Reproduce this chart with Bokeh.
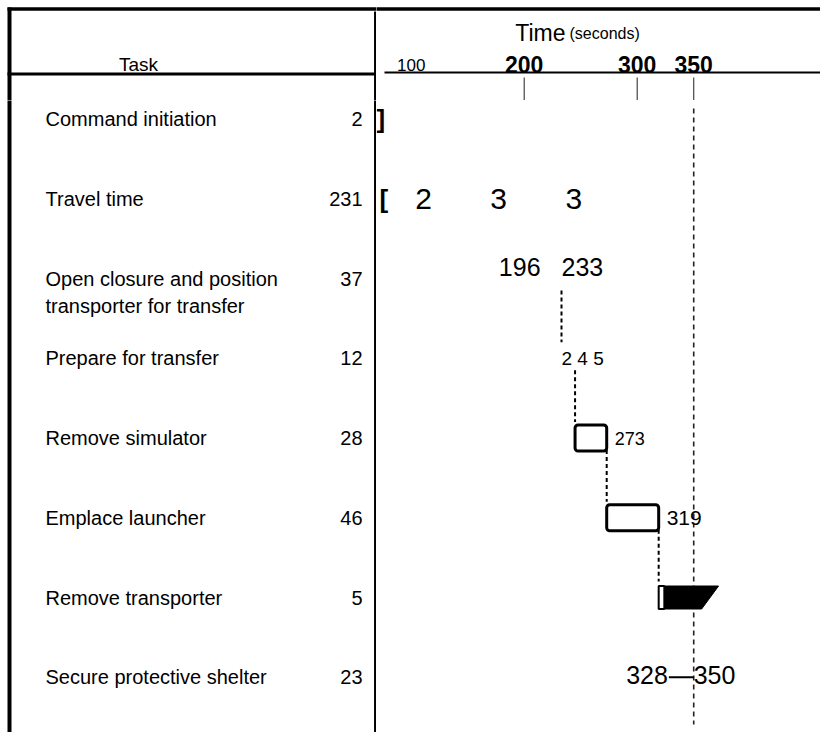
import numpy as np
from bokeh.plotting import figure
from bokeh.layouts import row, column
from bokeh.models import Range1d, Label
from bokeh.core.properties import value
from bokeh.embed import file_html
from bokeh.resources import INLINE

# ---------------- data ----------------
TASKS = [
    "Command initiation",
    "Travel time",
    "Open closure and position\ntransporter for transfer",
    "Prepare for transfer",
    "Remove simulator",
    "Emplace launcher",
    "Remove transporter",
    "Secure protective shelter",
]
DURATIONS = [2, 231, 37, 12, 28, 46, 5, 23]          # seconds
STARTS = [0, 2, 196, 233, 245, 273, 319, 328]        # seconds
ENDS = [2, 233, 233, 245, 273, 319, 324, 350]        # seconds
TICKS = [100, 200, 300, 350]
TICK_LABELS = ["100", "200", "300", "350"]
DEADLINE = 350

# ---------------- layout / style ----------------
FONT = "Liberation Sans"
W_LEFT, W_RIGHT = 376, 444
H_HEAD, H_BODY = 100, 632
PX_PER_S = 1.13
ANCHOR_S, ANCHOR_PX = 233, 185
X_LO = ANCHOR_S - ANCHOR_PX / PX_PER_S
X_HI = X_LO + W_RIGHT / PX_PER_S
ROW_PX = 79.75
Y_TOP = -18.5 / ROW_PX
Y_BOT = Y_TOP + H_BODY / ROW_PX
BOX_H = 13 / ROW_PX
BAR_H = 11.5 / ROW_PX
SLANT_TOP, SLANT_BOT = 22, 7
LINE_H = 1.25

idx = np.arange(len(TASKS))


def make(w, h, xr, yr):
    p = figure(width=w, height=h, x_range=xr, y_range=yr, output_backend="svg",
               toolbar_location=None, tools="", min_border=0,
               x_axis_location=None, y_axis_location=None,
               outline_line_color=None, background_fill_color="white",
               border_fill_color="white")
    p.grid.visible = False
    return p


xr_left = Range1d(0, W_LEFT)
xr_right = Range1d(X_LO, X_HI)
yr_head = Range1d(H_HEAD, 0)
yr_body = Range1d(Y_BOT, Y_TOP)

hl = make(W_LEFT, H_HEAD, xr_left, yr_head)
hr = make(W_RIGHT, H_HEAD, xr_right, yr_head)
bl = make(W_LEFT, H_BODY, xr_left, yr_body)
br = make(W_RIGHT, H_BODY, xr_right, yr_body)

# ---- frame lines ----
hl.segment(x0=[7], y0=[8.5], x1=[W_LEFT + 2], y1=[8.5], line_color="black", line_width=3.5)
hr.segment(x0=[X_LO - 2], y0=[8.5], x1=[X_HI + 2], y1=[8.5], line_color="black", line_width=3.5)
hl.segment(x0=[9], y0=[7], x1=[9], y1=[H_HEAD + 5], line_color="black", line_width=4)
bl.segment(x0=[9], y0=[Y_TOP - 0.2], x1=[9], y1=[Y_BOT + 0.2], line_color="black", line_width=4)
hl.segment(x0=[W_LEFT - 1.2], y0=[11], x1=[W_LEFT - 1.2], y1=[H_HEAD + 5], line_color="black", line_width=2.5)
bl.segment(x0=[W_LEFT - 1.2], y0=[Y_TOP - 0.2], x1=[W_LEFT - 1.2], y1=[Y_BOT + 0.2], line_color="black", line_width=2.5)
hl.segment(x0=[7], y0=[73.5], x1=[W_LEFT], y1=[73.5], line_color="black", line_width=3)
hr.segment(x0=[X_LO + 8 / PX_PER_S], y0=[72], x1=[X_HI + 2], y1=[72], line_color="black", line_width=2)

# ---- header texts ----
hl.add_layout(Label(x=138, y=64, text="Task", text_align="center", text_baseline="alphabetic",
                    text_font=FONT, text_font_size="19px", text_color="black"))
hr.add_layout(Label(x=189, y=32, x_units="screen", text="Time", text_align="right",
                    text_baseline="alphabetic", text_font=FONT, text_font_size="23px",
                    text_color="black"))
hr.add_layout(Label(x=193, y=33, x_units="screen", text="(seconds)", text_align="left",
                    text_baseline="alphabetic", text_font=FONT, text_font_size="16px",
                    text_color="black"))
hr.text(x=TICKS[:1], y=64, text=TICK_LABELS[:1], text_align="center", text_baseline="alphabetic",
        text_font=value(FONT), text_font_size="17px", text_color="black")
hr.text(x=TICKS[1:], y=64, text=TICK_LABELS[1:], text_align="center", text_baseline="alphabetic",
        text_font=value(FONT), text_font_size="23px", text_font_style="bold", text_color="black")

# ---- time grid marks (below the header rule) ----
marked = TICKS[1:]
hr.segment(x0=marked, y0=77, x1=marked, y1=H_HEAD, line_color="#444444", line_width=1.2)
br.segment(x0=[DEADLINE], y0=[Y_TOP + 8 / ROW_PX], x1=[DEADLINE], y1=[Y_BOT - 0.1],
           line_color="#222222", line_width=1.6, line_dash="5 4")

# ---- task table ----
bl.text(x=45, y=idx, text=TASKS, text_align="left", text_baseline="top", y_offset=-11,
        text_font=value(FONT), text_font_size="20px", text_color="black", text_line_height=LINE_H)
bl.text(x=362, y=idx, text=[str(d) for d in DURATIONS], text_align="right", text_baseline="top",
        y_offset=-7, text_font=value(FONT), text_font_size="20px", text_color="black",
        text_line_height=LINE_H)

# ---- clipped bar ends (command initiation / travel) ----
br.text(x=[max(ENDS[0], X_LO)], y=[0], text=["]"], text_align="left", text_baseline="middle",
        text_font=value(FONT), text_font_style="bold", text_font_size="26px", text_color="black")
br.text(x=[max(STARTS[1], X_LO)], y=[1], text=["["], text_align="left", text_baseline="middle",
        x_offset=3, text_font=value(FONT), text_font_style="bold", text_font_size="26px",
        text_color="black")

# travel time end value spread across its bar
digits = list(str(ENDS[1]))
br.text(x=np.linspace(TICKS[0], ENDS[1], len(digits)), y=[1] * len(digits), text=digits,
        text_align="left", text_baseline="middle", x_offset=4, text_font=value(FONT),
        text_font_size="30px", text_color="black")

# open closure: start / end values
br.text(x=[STARTS[2]], y=[2 - 0.15], text=[str(STARTS[2])], text_align="center",
        text_baseline="middle", text_font=value(FONT), text_font_size="25px", text_color="black")
br.text(x=[ENDS[2]], y=[2 - 0.15], text=[str(ENDS[2])], text_align="left",
        text_baseline="middle", text_font=value(FONT), text_font_size="25px", text_color="black")

# prepare for transfer: end value
br.text(x=[STARTS[3]], y=[3], text=[" ".join(str(ENDS[3]))], text_align="left",
        text_baseline="middle", text_font=value(FONT), text_font_size="19px", text_color="black")

# dependency connectors
conn = [i for i in range(len(TASKS) - 1) if ENDS[i] == STARTS[i + 1] and i >= 2]
br.segment(x0=[ENDS[i] for i in conn], y0=[i + 0.15 for i in conn],
           x1=[ENDS[i] for i in conn], y1=[i + 0.8 for i in conn],
           line_color="black", line_width=2, line_dash="4 3")

# boxes: remove simulator, emplace launcher
for i, fs in ((4, "18px"), (5, "21px")):
    br.quad(left=[STARTS[i]], right=[ENDS[i]], top=[i - BOX_H], bottom=[i + BOX_H],
            fill_color="white", line_color="black", line_width=3, border_radius=3)
    br.text(x=[ENDS[i]], y=[i], text=[str(ENDS[i])], text_align="left", text_baseline="middle",
            x_offset=8, text_font=value(FONT), text_font_size=fs, text_color="black")

# remove transporter
i = 6
br.patch(x=[ENDS[i], DEADLINE + SLANT_TOP, DEADLINE + SLANT_BOT, ENDS[i]],
         y=[i - BAR_H, i - BAR_H, i + BAR_H, i + BAR_H], fill_color="black", line_color="black")
br.quad(left=[STARTS[i]], right=[ENDS[i]], top=[i - BAR_H], bottom=[i + BAR_H],
        fill_color="white", line_color="black", line_width=2)

# secure protective shelter
i = 7
br.segment(x0=[STARTS[i]], y0=[i], x1=[ENDS[i]], y1=[i], line_color="black", line_width=2)
br.text(x=[STARTS[i]], y=[i], text=[str(STARTS[i])], text_align="right", text_baseline="alphabetic",
        y_offset=-2, x_offset=-1, text_font=value(FONT), text_font_size="25px", text_color="black")
br.text(x=[ENDS[i]], y=[i], text=[str(ENDS[i])], text_align="left", text_baseline="alphabetic",
        y_offset=-2, text_font=value(FONT), text_font_size="25px", text_color="black")

page = column(row(hl, hr), row(bl, br))
open("out.html", "w").write(file_html(page, INLINE))
